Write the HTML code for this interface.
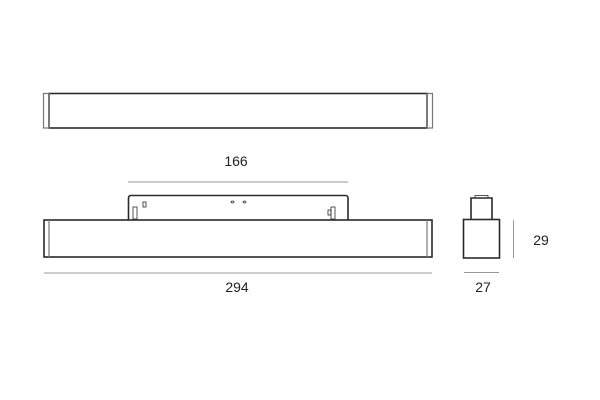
<!DOCTYPE html>
<html><head><style>
html,body{margin:0;padding:0;background:#fff;width:600px;height:400px;overflow:hidden}
</style></head><body>
<svg width="600" height="400" viewBox="0 0 600 400" xmlns="http://www.w3.org/2000/svg" font-family="Liberation Sans, sans-serif">
<g fill="none" stroke="#2a2a2a" stroke-width="1.6">
<!-- top bar -->
<rect x="49" y="93.5" width="378" height="34.5"/>
<rect x="43.5" y="93.5" width="5.5" height="34.5" stroke="#777" stroke-width="1.2"/>
<rect x="427" y="93.5" width="5.5" height="34.5" stroke="#777" stroke-width="1.2"/>
<!-- main bar -->
<rect x="44" y="220" width="388" height="37"/>
<line x1="49" y1="220" x2="49" y2="257" stroke="#777" stroke-width="1.2"/>
<line x1="427" y1="220" x2="427" y2="257" stroke="#777" stroke-width="1.2"/>
<!-- adapter -->
<path d="M128.5 220 V198 Q128.5 195.5 131 195.5 H345.5 Q348 195.5 348 198 V220"/>
<rect x="133" y="207" width="4" height="12" stroke-width="0.8"/>
<rect x="143" y="202" width="3" height="5" stroke-width="0.8"/>
<rect x="331" y="207" width="4" height="12" stroke-width="0.8"/>
<rect x="328" y="210" width="3" height="5" stroke-width="0.8"/>
<ellipse cx="232.5" cy="202" rx="1.5" ry="1" stroke-width="0.8"/>
<ellipse cx="244.5" cy="202" rx="1.5" ry="1" stroke-width="0.8"/>
<!-- side view -->
<rect x="463.5" y="219.5" width="36" height="38.5"/>
<path d="M471 219.5 V198 H492 V219.5"/>
<rect x="475" y="195.5" width="13" height="2.5" stroke-width="0.8"/>
</g>
<g stroke="#999" stroke-width="1">
<line x1="128" y1="182" x2="348" y2="182"/>
<line x1="44" y1="273" x2="432" y2="273"/>
<line x1="464" y1="272.5" x2="499" y2="272.5"/>
<line x1="513.5" y1="220" x2="513.5" y2="258"/>
</g>
<g font-size="14" fill="#222" text-anchor="middle">
<text x="236" y="166">166</text>
<text x="237" y="292">294</text>
<text x="483" y="292">27</text>
<text x="541" y="245">29</text>
</g>
</svg>
</body></html>
